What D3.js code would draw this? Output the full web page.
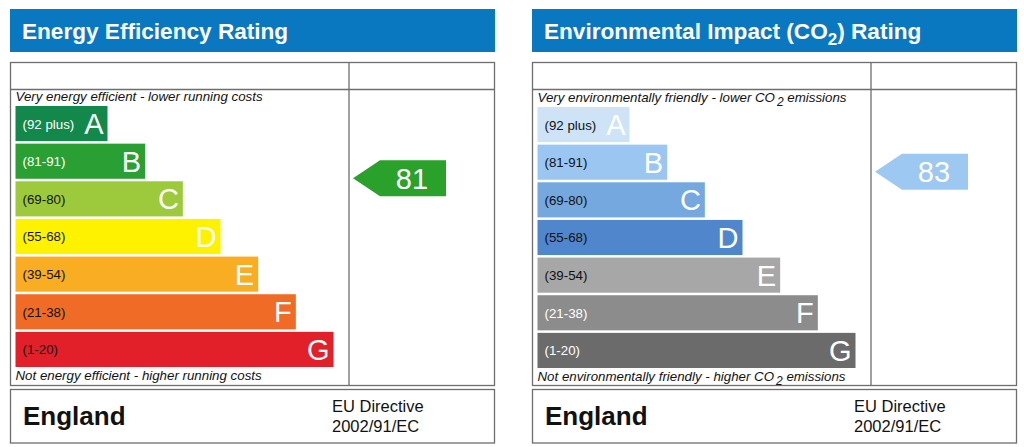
<!DOCTYPE html>
<html>
<head>
<meta charset="utf-8">
<script src="https://cdn.jsdelivr.net/npm/d3@7"></script>
<style>
  html, body { margin: 0; padding: 0; background: #ffffff; }
  svg { display: block; font-family: Arial, "Liberation Sans", sans-serif; }
</style>
</head>
<body>
<svg id="chart" width="1024" height="447"></svg>
<script>
// ---- data ----
const ratings = ["A", "B", "C", "D", "E", "F", "G"];
const rangeLabels = ["(92 plus)", "(81-91)", "(69-80)", "(55-68)", "(39-54)", "(21-38)", "(1-20)"];
const eeColors = ["#12894a", "#2a9f33", "#9dca3c", "#fff200", "#f9ad22", "#f06b25", "#e2202a"];
const eeLabelColors = ["#ffffff", "#ffffff", "#111111", "#111111", "#111111", "#111111", "#111111"];
const eiColors = ["#cfe3f7", "#9ac6f1", "#74a8de", "#4f86cc", "#a7a7a7", "#8c8c8c", "#6b6b6b"];
const eiLabelColors = ["#111111", "#111111", "#111111", "#111111", "#111111", "#ffffff", "#ffffff"];
const eeCurrent = 81;
const eiCurrent = 83;
const eeArrowColor = "#2aa12b";
const eiArrowColor = "#9cc8f2";
const footerCountry = "England";
const footerDirective = ["EU Directive", "2002/91/EC"];

const svg = d3.select("#chart");
const FONT = 'Arial, "Liberation Sans", sans-serif';
const LINE = "#6e6e6e";

function drawPanel(opt) {
  const g = svg.append("g").attr("transform", `translate(${opt.x0},0)`);
  const W = 485;            // panel width
  const divX = 339;         // column divider
  const boxTop = 62.5, rowLine = 89.5, boxBottom = 385.5;

  // header
  g.append("rect").attr("x", 0).attr("y", 9).attr("width", W).attr("height", 43).attr("fill", "#0a78c1");
  const title = g.append("text").attr("x", 12).attr("y", 39).attr("fill", "#fff")
    .attr("font-size", 22.6).attr("font-weight", "bold").attr("font-family", FONT);
  opt.title(title);

  // main box
  g.append("rect").attr("x", 0.5).attr("y", boxTop).attr("width", W - 1).attr("height", boxBottom - boxTop)
    .attr("fill", "none").attr("stroke", LINE).attr("stroke-width", 1.3);
  g.append("line").attr("x1", 0.5).attr("x2", W - 0.5).attr("y1", rowLine).attr("y2", rowLine)
    .attr("stroke", LINE).attr("stroke-width", 1.3);
  g.append("line").attr("x1", divX).attr("x2", divX).attr("y1", boxTop).attr("y2", boxBottom)
    .attr("stroke", LINE).attr("stroke-width", 1.3);

  // scales
  const y = d3.scaleBand().domain(ratings).range([opt.barTop, opt.barTop + 261]).paddingInner(0.067).paddingOuter(0);
  const w = d3.scaleLinear().domain([0, ratings.length - 1]).range([92, 318]);
  const v = d3.scaleLinear().domain([100, 0]).range([opt.barTop + 1, opt.barTop + 376]);
  const bx = 5.5;

  // top/bottom captions
  const topCap = g.append("text").attr("x", bx).attr("y", opt.barTop - 5).attr("font-size", 13.3)
    .attr("font-style", "italic").attr("fill", "#111").attr("font-family", FONT);
  opt.topCaption(topCap);
  const botCap = g.append("text").attr("x", bx).attr("y", opt.barTop + 274).attr("font-size", 13.3)
    .attr("font-style", "italic").attr("fill", "#111").attr("font-family", FONT);
  opt.bottomCaption(botCap);

  // bars
  const bars = g.selectAll("g.bar").data(ratings).join("g").attr("class", "bar")
    .attr("transform", d => `translate(${bx},${y(d)})`);
  bars.append("rect").attr("width", (d, i) => w(i)).attr("height", y.bandwidth())
    .attr("fill", (d, i) => opt.colors[i]);
  bars.append("text").attr("x", 7).attr("y", y.bandwidth() / 2 + 5).attr("font-size", 13.3)
    .attr("fill", (d, i) => opt.labelColors[i]).attr("font-family", FONT)
    .text((d, i) => rangeLabels[i]);
  bars.append("text").attr("x", (d, i) => w(i) - 4).attr("y", y.bandwidth() - 7)
    .attr("text-anchor", "end").attr("font-size", 29).attr("fill", "#fff").attr("font-family", FONT)
    .text(d => d);

  // arrow for current value
  const yc = v(opt.value);
  const tip = divX + 4, shoulder = divX + 31, end = divX + 97, hh = 18;
  g.append("path")
    .attr("d", `M${tip},${yc} L${shoulder},${yc - hh} L${end},${yc - hh} L${end},${yc + hh} L${shoulder},${yc + hh} Z`)
    .attr("fill", opt.arrowColor);
  g.append("text").attr("x", (shoulder + end) / 2 - 1).attr("y", yc + 10.5).attr("text-anchor", "middle")
    .attr("font-size", 29).attr("fill", "#fff").attr("font-family", FONT).text(opt.value);

  // footer
  g.append("rect").attr("x", 0.5).attr("y", 389.5).attr("width", W - 1).attr("height", 53.5)
    .attr("fill", "none").attr("stroke", LINE).attr("stroke-width", 1.3);
  g.append("text").attr("x", 13).attr("y", 425).attr("font-size", 26).attr("font-weight", "bold")
    .attr("fill", "#111").attr("font-family", FONT).text(footerCountry);
  g.append("text").attr("x", 322).attr("y", 412).attr("font-size", 16.5).attr("fill", "#111")
    .attr("font-family", FONT)
    .selectAll("tspan").data(footerDirective).join("tspan")
    .attr("x", 322).attr("dy", (d, i) => i === 0 ? 0 : 20).text(d => d);
}

function withCO2(t, before, after, subSize, subShift, gap) {
  t.append("tspan").text(before);
  t.append("tspan").attr("font-size", subSize).attr("dx", gap).attr("dy", subShift).text("2");
  t.append("tspan").attr("dy", -subShift).text(after);
}

drawPanel({
  x0: 10, barTop: 106, colors: eeColors, labelColors: eeLabelColors, value: eeCurrent, arrowColor: eeArrowColor,
  title: t => t.text("Energy Efficiency Rating"),
  topCaption: t => t.text("Very energy efficient - lower running costs"),
  bottomCaption: t => t.text("Not energy efficient - higher running costs")
});

drawPanel({
  x0: 532, barTop: 107, colors: eiColors, labelColors: eiLabelColors, value: eiCurrent, arrowColor: eiArrowColor,
  title: t => withCO2(t, "Environmental Impact (CO", ") Rating", 17, 6, 0),
  topCaption: t => withCO2(t, "Very environmentally friendly - lower CO", " emissions", 12, 4, 2),
  bottomCaption: t => withCO2(t, "Not environmentally friendly - higher CO", " emissions", 12, 4, 2)
});
</script>
</body>
</html>
